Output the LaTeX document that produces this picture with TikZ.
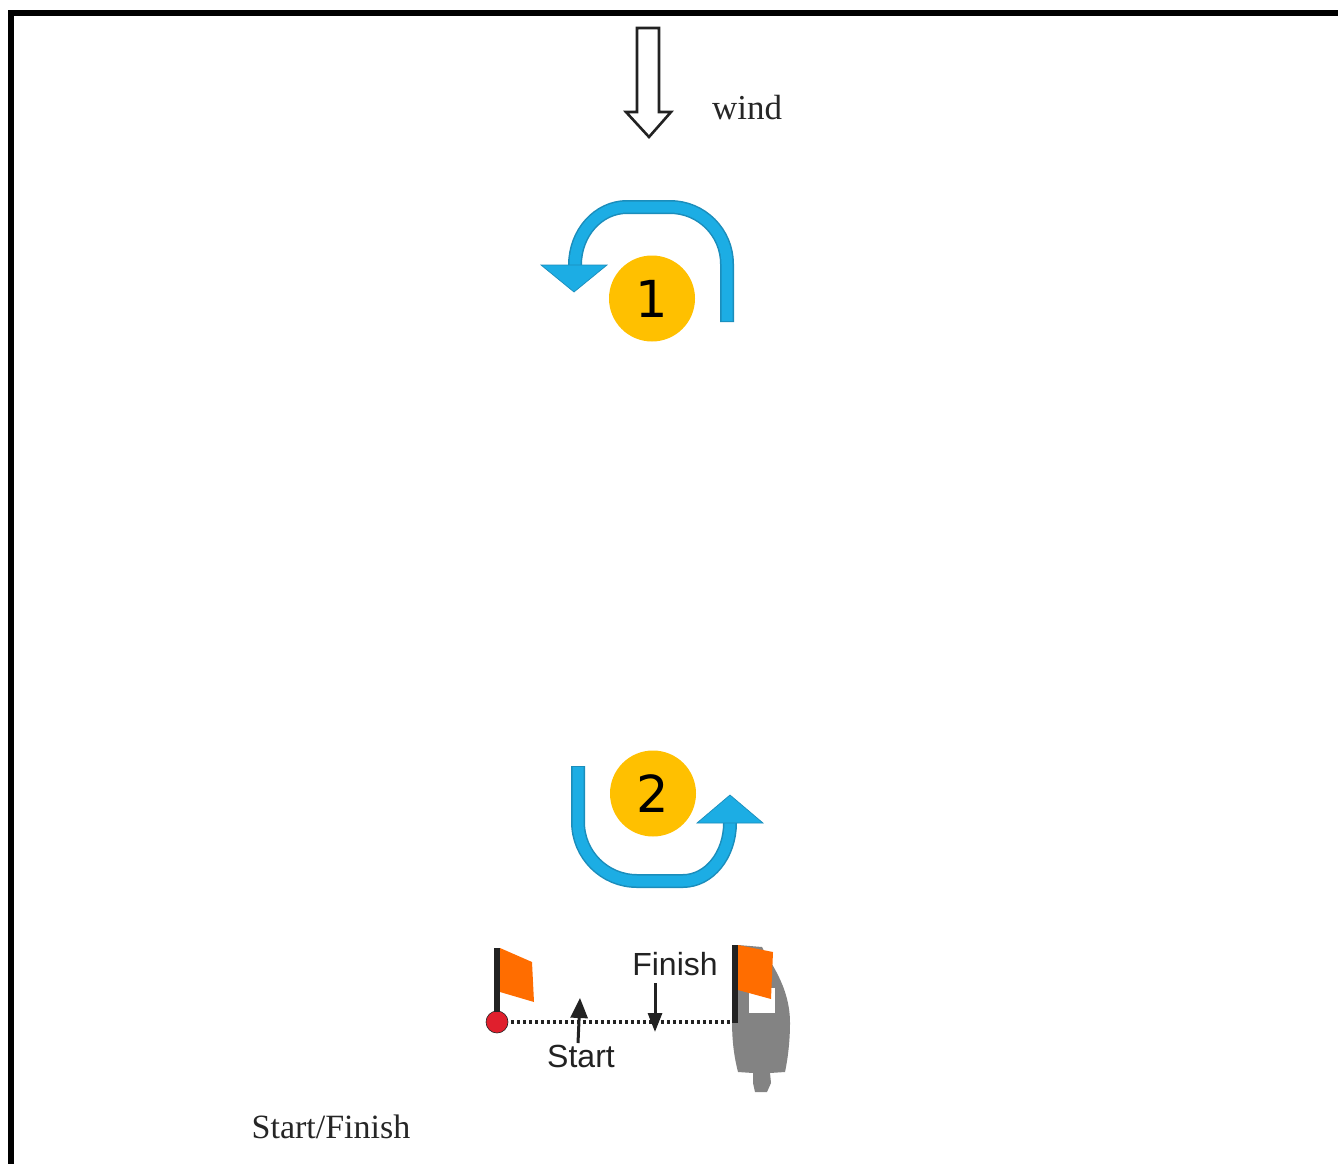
\documentclass[tikz,border=0pt]{standalone}
\usepackage{fontspec}
\setmainfont{Liberation Serif}
\newfontfamily\armfont{Liberation Sans}
\newfontfamily\numfont{DejaVu Sans}
\usetikzlibrary{arrows.meta}
\definecolor{ribbonblue}{HTML}{1CADE4}
\definecolor{ribbonedge}{HTML}{1B8DBB}
\definecolor{badge}{HTML}{FFC000}
\definecolor{flagor}{HTML}{FF6D00}
\definecolor{ballred}{HTML}{E01F2D}
\definecolor{hull}{HTML}{838383}
\definecolor{darkline}{HTML}{222222}
\tikzset{
  badgenode/.style={circle,fill=badge,minimum size=86pt,inner sep=0pt,font=\numfont\fontsize{51}{51}\selectfont,text=black},
  serifnote/.style={inner sep=0pt,font=\fontsize{35}{35}\selectfont,text=black!85},
  sansnote/.style={inner sep=0pt,font=\armfont\fontsize{32}{32}\selectfont,text=darkline},
  ribbonouter/.style={draw=ribbonedge,line width=14pt},
  ribboninner/.style={draw=ribbonblue,line width=11pt},
  headfill/.style={fill=ribbonblue,draw=ribbonedge,line width=0.7pt,line join=miter},
  flagfill/.style={fill=flagor},
  pole/.style={fill=darkline},
  smallarrow/.style={draw=darkline,line width=3pt,-{Triangle[length=20pt,width=17pt]}},
  smallarrowb/.style={draw=darkline,line width=3pt,-{Triangle[length=19pt,width=14pt]}}
}
\begin{document}
\begin{tikzpicture}[x=1pt,y=-1pt]
\useasboundingbox (0,0) rectangle (1338,1164);
\fill[white] (0,0) rectangle (1338,1164);
% frame
\fill[black] (8,10) rectangle (1338,16);
\fill[black] (8,10) rectangle (14,1164);
% wind
\draw[line width=2.6pt,draw=darkline,fill=white,line join=miter]
  (637,28) -- (659,28) -- (659,112) -- (671,112) -- (649,137) -- (626,112) -- (637,112) -- cycle;
\node[serifnote] (windlabel) at (747,108) {wind};
% arrow 1
\draw[ribbonouter] (727,322) -- (727,264) arc[start angle=0,end angle=-90,radius=57] -- (627,207) arc[start angle=-90,end angle=-180,x radius=52,y radius=58] -- (575,266);
\draw[ribboninner] (727,321) -- (727,264) arc[start angle=0,end angle=-90,radius=57] -- (627,207) arc[start angle=-90,end angle=-180,x radius=52,y radius=58] -- (575,268);
\draw[headfill] (541,265) -- (607,265) -- (574,292) -- cycle;
\node[badgenode] (badgeone) at (652,298.5) {1};
% arrow 2
\draw[ribbonouter] (578,766) -- (578,822) arc[start angle=180,end angle=90,radius=59] -- (683,881) arc[start angle=90,end angle=0,x radius=47,y radius=58] -- (730,822);
\draw[ribboninner] (578,767) -- (578,822) arc[start angle=180,end angle=90,radius=59] -- (683,881) arc[start angle=90,end angle=0,x radius=47,y radius=58] -- (730,820);
\draw[headfill] (697,823) -- (763,823) -- (730,795) -- cycle;
\node[badgenode] (badgetwo) at (653,793.5) {2};
% boat
\fill[hull] (762,947) .. controls (768,960) and (790,985) .. (790,1023)
  .. controls (790,1040) and (788,1058) .. (785,1072) -- (770,1073) -- (771,1083) -- (767,1092) -- (755,1092) -- (753,1083) -- (753,1073) -- (738,1072)
  .. controls (735,1060) and (732,1045) .. (732,1020) -- (738,945) -- cycle;
\fill[white] (749,988) rectangle (775,1013);
% dotted line
\node[circle,fill=ballred,draw=darkline,line width=0.6pt,minimum size=22pt,inner sep=0pt] (ball) at (497,1022) {};
\coordinate (boatpole) at (732,1022);
\draw[darkline,line width=3.2pt,dash pattern=on 3pt off 3pt] (ball.east) ++(3,0) -- (boatpole);
% flags
\fill[pole] (494,948) rectangle (500,1012);
\fill[flagfill] (500,948) -- (532,962) -- (534,1002) -- (500,992) -- cycle;
\fill[pole] (732,945) rectangle (738,1023);
\fill[flagfill] (738,945) -- (773,952) -- (771,999) -- (738,990) -- cycle;
% start and finish markers
\node[sansnote] (startlabel) at (581,1056) {Start};
\node[sansnote] (finishlabel) at (675,964) {Finish};
\coordinate (starttip) at (580,998);
\coordinate (finishtip) at (655,1032);
\draw[smallarrow] (578,1043) -- (starttip);
\draw[smallarrowb] (655,983) -- (finishtip);
\node[serifnote,font=\fontsize{34}{34}\selectfont] (caption) at (331,1127) {Start/Finish};
\end{tikzpicture}
\end{document}
